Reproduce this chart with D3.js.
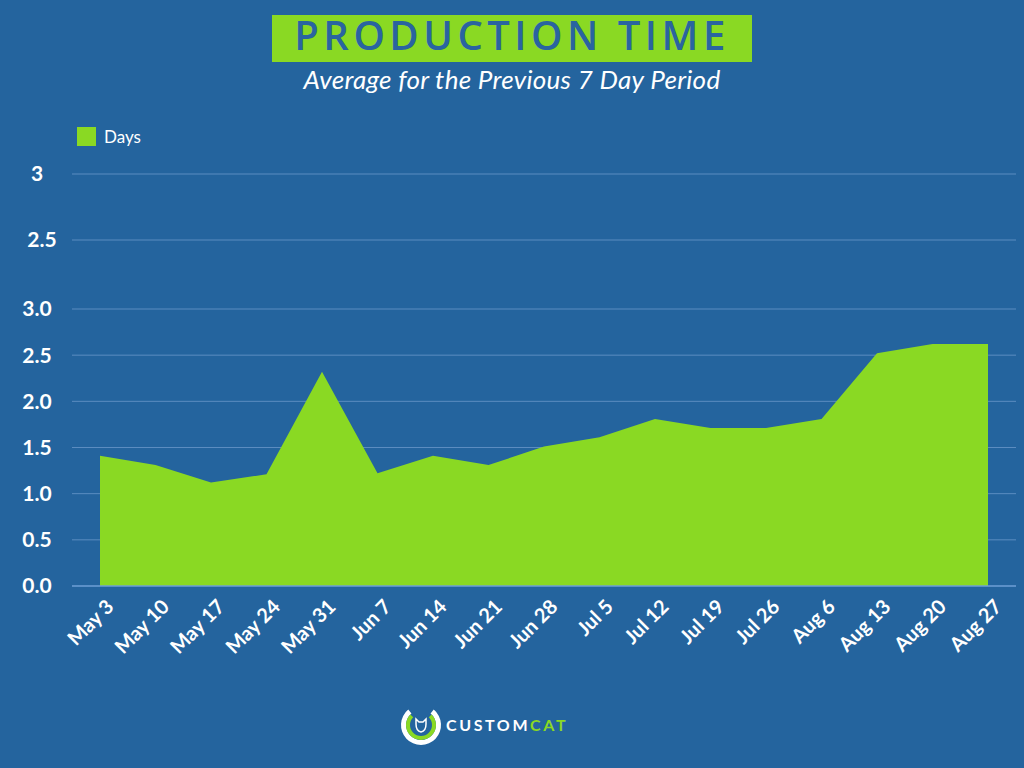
<!DOCTYPE html>
<html>
<head>
<meta charset="utf-8">
<script src="https://cdn.jsdelivr.net/npm/d3@7"></script>
<style>
  body { margin: 0; background: #24649e; }
  svg { display: block; }
  .grid line { stroke: #5b8cc0; stroke-width: 1; }
  .ylab { fill: #fff; font-family: Lato, sans-serif; font-weight: 700; font-size: 21px; }
  .xlab { fill: #fff; font-family: Lato, sans-serif; font-weight: 700; font-size: 20px; }
</style>
</head>
<body>
<script>
// data
var weeks = ["May 3", "May 10", "May 17", "May 24", "May 31", "Jun 7", "Jun 14", "Jun 21", "Jun 28",
             "Jul 5", "Jul 12", "Jul 19", "Jul 26", "Aug 6", "Aug 13", "Aug 20", "Aug 27"];
var days = [1.41, 1.31, 1.12, 1.21, 2.32, 1.22, 1.41, 1.31, 1.51, 1.61, 1.81, 1.71, 1.71, 1.81, 2.52, 2.62, 2.62];
var yTicks = [0, 0.5, 1.0, 1.5, 2.0, 2.5, 3.0];
// the two stray labels printed above the real axis
var extraTicks = ["3", "2.5"];

var W = 1024, H = 768;
var margin = {top: 309, right: 8, bottom: 182, left: 72};

var svg = d3.select("body").append("svg")
    .attr("width", W)
    .attr("height", H);

var x = d3.scalePoint()
    .domain(weeks)
    .range([100, 988]);

var y = d3.scaleLinear()
    .domain([0, 3])
    .range([H - margin.bottom, margin.top]);

var ex = d3.scalePoint()
    .domain(extraTicks)
    .range([174, 240]);

// title
svg.append("rect")
    .attr("x", 272).attr("y", 15)
    .attr("width", 480).attr("height", 47)
    .attr("fill", "#8ad923");
svg.append("text")
    .attr("x", 512).attr("y", 50)
    .attr("text-anchor", "middle")
    .attr("fill", "#2a64a0")
    .style("font-family", "'Open Sans', sans-serif")
    .style("font-weight", 600)
    .style("font-size", "40px")
    .style("letter-spacing", "4.5px")
    .text("PRODUCTION TIME");
svg.append("text")
    .attr("x", 512).attr("y", 89)
    .attr("text-anchor", "middle")
    .attr("fill", "#fff")
    .style("font-family", "Lato, sans-serif")
    .style("font-style", "italic")
    .style("font-size", "26px")
    .style("letter-spacing", "0.3px")
    .text("Average for the Previous 7 Day Period");

// legend
svg.append("rect")
    .attr("x", 77).attr("y", 127)
    .attr("width", 19).attr("height", 19)
    .attr("fill", "#8ad923");
svg.append("text")
    .attr("x", 104).attr("y", 143)
    .attr("fill", "#fff")
    .style("font-family", "Lato, sans-serif")
    .style("font-size", "17px")
    .text("Days");

// stray upper gridlines
var eg = svg.append("g").attr("class", "grid");
eg.selectAll("line")
    .data(extraTicks)
  .enter().append("line")
    .attr("x1", margin.left).attr("x2", W - margin.right)
    .attr("y1", function(d) { return ex(d); })
    .attr("y2", function(d) { return ex(d); });
svg.selectAll(".elab")
    .data(extraTicks)
  .enter().append("text")
    .attr("class", "ylab")
    .attr("text-anchor", "middle")
    .attr("x", function(d, i) { return i === 0 ? 37 : 42; })
    .attr("y", function(d) { return ex(d); })
    .attr("dy", "0.35em")
    .text(function(d) { return d; });

// grid
svg.append("g")
    .attr("class", "grid")
    .selectAll("line")
    .data(yTicks.slice(1))
  .enter().append("line")
    .attr("x1", margin.left).attr("x2", W - margin.right)
    .attr("y1", function(d) { return y(d); })
    .attr("y2", function(d) { return y(d); });

// area
var area = d3.area()
    .x(function(d, i) { return x(weeks[i]); })
    .y0(y(0))
    .y1(function(d) { return y(d); });

svg.append("path")
    .datum(days)
    .attr("fill", "#8ad923")
    .attr("d", area);

// baseline
svg.append("line")
    .attr("x1", margin.left).attr("x2", W - margin.right)
    .attr("y1", y(0)).attr("y2", y(0))
    .attr("stroke", "#6e9fd6")
    .attr("stroke-width", 1.5);

// y axis labels
svg.selectAll(".yl")
    .data(yTicks)
  .enter().append("text")
    .attr("class", "ylab")
    .attr("text-anchor", "middle")
    .attr("x", 37)
    .attr("y", function(d) { return y(d); })
    .attr("dy", "0.35em")
    .text(function(d) { return d3.format(".1f")(d); });

// x axis labels
svg.selectAll(".xl")
    .data(weeks)
  .enter().append("text")
    .attr("class", "xlab")
    .attr("text-anchor", "end")
    .attr("transform", function(d) {
      return "translate(" + (x(d) + 10) + "," + (y(0) + 17) + ") rotate(-45)";
    })
    .attr("dy", "0.35em")
    .text(function(d) { return d; });

// logo
var logo = svg.append("g").attr("transform", "translate(421,725)");
logo.append("path")
    .attr("fill", "#fff")
    .attr("d", d3.arc().innerRadius(15).outerRadius(20)
      .startAngle(Math.PI * 0.22).endAngle(Math.PI * 1.78)());
logo.append("path")
    .attr("fill", "#8ad923")
    .attr("d", d3.arc().innerRadius(11).outerRadius(15)
      .startAngle(Math.PI * 0.25).endAngle(Math.PI * 1.75)());
logo.append("path")
    .attr("fill", "none")
    .attr("stroke", "#fff")
    .attr("stroke-width", 1.5)
    .attr("d", "M-5,-6 L-5,-1 Q-5,6 0,7 Q5,6 5,-1 L5,-6 L2,-3 L-2,-3 Z");
var brand = svg.append("text")
    .attr("x", 446).attr("y", 731)
    .style("font-family", "Lato, sans-serif")
    .style("font-weight", 700)
    .style("font-size", "16px")
    .style("letter-spacing", "2.6px");
brand.append("tspan").attr("fill", "#fff").text("CUSTOM");
brand.append("tspan").attr("fill", "#8ad923").text("CAT");
</script>
</body>
</html>
